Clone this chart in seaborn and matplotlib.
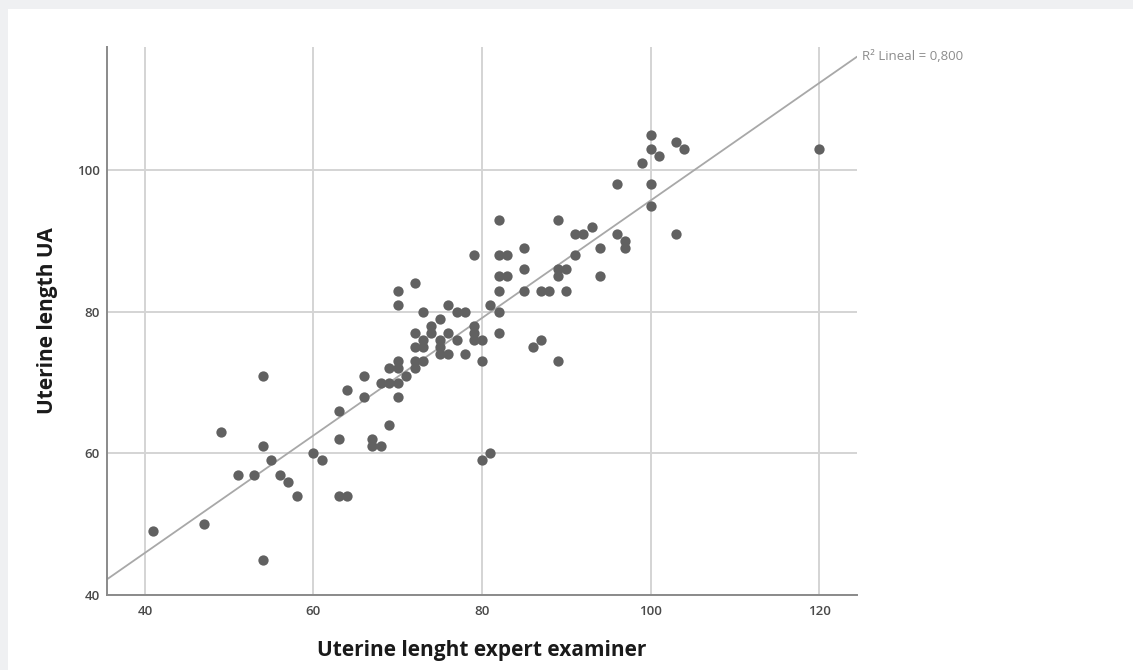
# Scatter of uterine length: expert examiner vs UA, with linear fit
import numpy as np
import pandas as pd
import matplotlib
matplotlib.use("Agg")
import matplotlib.pyplot as plt
from matplotlib.patches import Rectangle
import seaborn as sns

# --------------------------------------------
# Data
# --------------------------------------------
expert = [41, 47, 49, 51, 53, 54, 54, 54, 55, 56, 57, 58, 60, 61, 63, 63, 63, 64, 64,
          66, 66, 67, 67, 68, 68, 69, 69, 69, 70, 70, 70, 70, 70, 70, 71, 72, 72, 72,
          72, 72, 73, 73, 73, 73, 74, 74, 75, 75, 75, 75, 76, 76, 76, 77, 77, 78, 78,
          79, 79, 79, 79, 80, 80, 80, 81, 81, 82, 82, 82, 82, 82, 82, 83, 83, 85, 85,
          85, 86, 87, 87, 88, 89, 89, 89, 89, 90, 90, 91, 91, 92, 93, 94, 94, 96, 96,
          97, 97, 99, 100, 100, 100, 100, 101, 103, 103, 104, 120]
ua = [49, 50, 63, 57, 57, 71, 61, 45, 59, 57, 56, 54, 60, 59, 66, 62, 54, 54, 69,
      71, 68, 62, 61, 61, 70, 70, 72, 64, 83, 81, 73, 72, 70, 68, 71, 84, 77, 75,
      73, 72, 80, 76, 75, 73, 78, 77, 79, 76, 75, 74, 81, 77, 74, 80, 76, 80, 74,
      88, 78, 77, 76, 76, 73, 59, 60, 81, 93, 88, 85, 83, 80, 77, 88, 85, 89, 86,
      83, 75, 76, 83, 83, 93, 86, 85, 73, 86, 83, 88, 91, 91, 92, 89, 85, 98, 91,
      90, 89, 101, 105, 103, 98, 95, 102, 104, 91, 103, 103]

x_ticks = [40, 60, 80, 100, 120]
y_ticks = [40, 60, 80, 100]
r2_label = "R\u00b2 Lineal = 0,800"

df = pd.DataFrame({"expert": expert, "ua": ua})

# --------------------------------------------
# Figure
# --------------------------------------------
sns.set_style("white")
plt.rcParams['font.family'] = ['Open Sans', 'DejaVu Sans']

fig = plt.figure(figsize=(11.33, 6.7), dpi=100, facecolor="#eff0f2")
# white panel behind everything, grey strip left and top
fig.patches.append(Rectangle((8 / 1133, 0), 1, 1 - 9 / 670, transform=fig.transFigure,
                             facecolor="white", edgecolor="none", zorder=-10))
ax = fig.add_axes([107 / 1133, 75 / 670, 750 / 1133, 548 / 670])
ax.set_facecolor("white")

ax.set_xlim(35.5, 124.5)
ax.set_ylim(40, 117.4)

sns.regplot(data=df, x="expert", y="ua", ax=ax, ci=None, truncate=False,
            scatter_kws=dict(s=55, color="#616161", linewidths=0, alpha=1, zorder=3),
            line_kws=dict(color="#a8a8a8", lw=1.3, zorder=2))

ax.set_xticks(x_ticks)
ax.set_yticks(y_ticks)
ax.grid(True, color="#d4d4d4", lw=1.4)
ax.set_axisbelow(True)
ax.tick_params(length=0, labelsize=9.5, colors="#4a4a4a")
ax.tick_params(axis="x", pad=7)
ax.tick_params(axis="y", pad=5)
for lab in ax.get_xticklabels() + ax.get_yticklabels():
    lab.set_fontweight("semibold")

for s in ["top", "right"]:
    ax.spines[s].set_visible(False)
for s in ["left", "bottom"]:
    ax.spines[s].set_color("#8a8a8a")
    ax.spines[s].set_linewidth(1.4)

ax.set_xlabel("Uterine lenght expert examiner", fontsize=15, fontweight="bold",
              color="#1a1a1a", labelpad=16)
ax.set_ylabel("Uterine length UA", fontsize=15, fontweight="bold",
              color="#1a1a1a", labelpad=14)

ax.text(1.007, 0.982, r2_label, transform=ax.transAxes, fontsize=9.5,
        color="#8c8c8c", va="center", ha="left")

plt.savefig("out.png", dpi=100, facecolor=fig.get_facecolor())
plt.close()
